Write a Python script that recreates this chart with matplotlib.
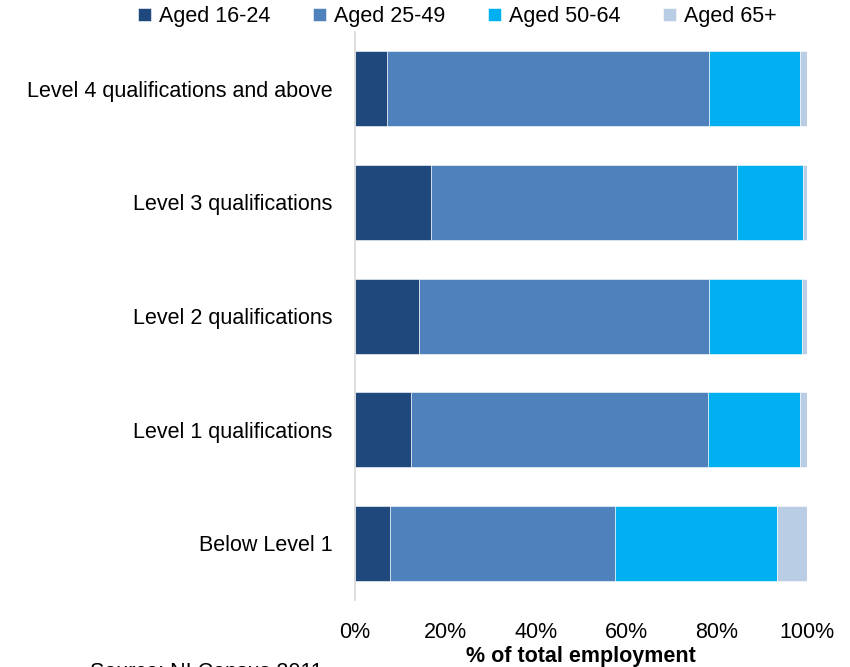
import numpy as np
import matplotlib.pyplot as plt
from matplotlib.ticker import FuncFormatter

plt.rcParams['font.family'] = ['Liberation Sans', 'DejaVu Sans']

categories = ['Level 4 qualifications and above', 'Level 3 qualifications',
              'Level 2 qualifications', 'Level 1 qualifications', 'Below Level 1']
series = ['Aged 16-24', 'Aged 25-49', 'Aged 50-64', 'Aged 65+']
aged_16_24 = [7.0, 16.8, 14.2, 12.4, 7.7]
aged_25_49 = [71.4, 67.8, 64.2, 65.6, 49.9]
aged_50_64 = [20.1, 14.6, 20.4, 20.5, 35.8]
aged_65_plus = [1.5, 0.8, 1.2, 1.5, 6.6]
colors = ['#1F497D', '#4F81BD', '#00B0F0', '#B9CDE5']

fs = 15.5

fig = plt.figure(figsize=(8.5, 6.67), dpi=100)
ax = fig.add_axes([0.4176, 0.1004, 0.5318, 0.8516])

y = np.arange(len(categories))
left = np.zeros(len(categories))
for name, vals, c in zip(series, [aged_16_24, aged_25_49, aged_50_64, aged_65_plus], colors):
    ax.barh(y, vals, left=left, height=0.66, color=c, label=name,
            edgecolor='#FFFFFF', linewidth=0.4)
    left += np.array(vals)

ax.set_ylim(len(categories) - 0.5, -0.5)
ax.set_xlim(0, 100)
ax.set_yticks(y)
ax.set_yticklabels(categories, fontsize=fs)
ax.set_xticks(np.arange(0, 101, 20))
ax.xaxis.set_major_formatter(FuncFormatter(lambda v, p: f'{v:.0f}%'))
ax.tick_params(axis='x', labelsize=fs, length=0, pad=16)
ax.tick_params(axis='y', length=0, pad=16)
for s in ['top', 'right', 'bottom']:
    ax.spines[s].set_visible(False)
ax.spines['left'].set_color('#D9D9D9')
ax.spines['left'].set_linewidth(1.2)

ax.set_xlabel('% of total employment', fontsize=fs, fontweight='bold', labelpad=2)

fig.legend(loc='upper center', bbox_to_anchor=(0.538, 1.02), ncol=4, frameon=False,
           fontsize=fs, handlelength=0.6, handleheight=0.6, handletextpad=0.35,
           columnspacing=2.0)

# source line sits at the very bottom edge, partly cut off as in the original
fig.text(90 / 850, 0.0075, 'Source: NI Census 2011', fontsize=fs, va='top', ha='left')

fig.savefig('out.png', dpi=100)
